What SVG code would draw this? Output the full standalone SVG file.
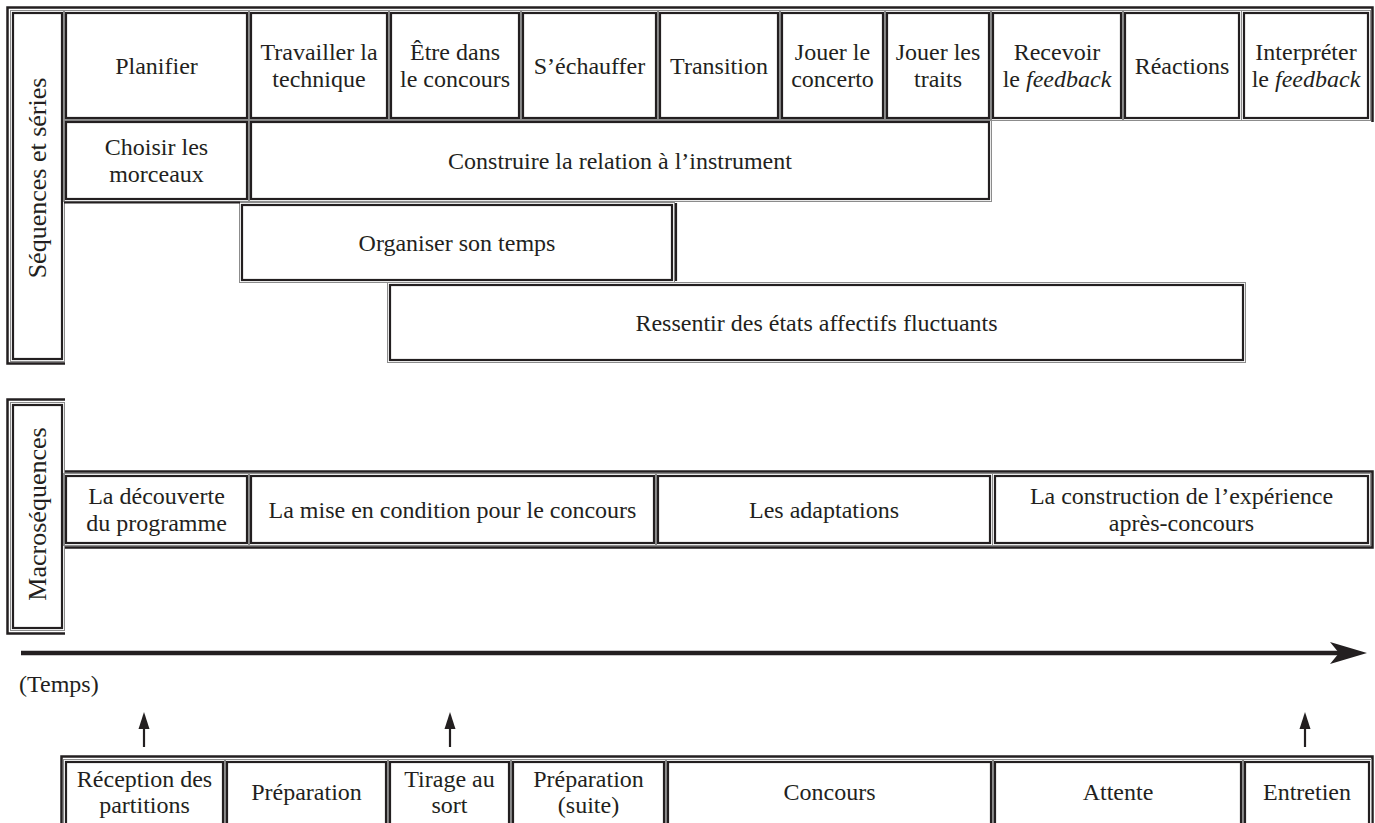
<svg xmlns="http://www.w3.org/2000/svg" width="1375" height="823" viewBox="0 0 1375 823">
<style>
.c{fill:#fff;stroke:#231f20;stroke-width:2.2}
.g{fill:none;stroke:#8c8c8c;stroke-width:1}
.f{fill:none;stroke:#231f20;stroke-width:2.5}
.t,.v,.tm{font-family:'Liberation Serif','Times New Roman',serif;fill:#231f20}
.t{font-size:24px;text-anchor:middle}
.v{font-size:26px;text-anchor:middle}
.tm{font-size:24px}
.i{font-style:italic}
.ln{stroke:#231f20;fill:none}
</style>
<rect width="1375" height="823" fill="#fff"/>

<g id="frame1">
<path class="f" d="M65,363.5 H7.5 V7.5 H1372.5 V122"/>
</g>
<g id="label-sequences">
<rect class="g" x="10.5" y="10.5" width="54" height="351"/>
<rect class="c" x="13" y="13" width="49" height="346"/>
<text class="v" transform="translate(46,178) rotate(-90)">Séquences et séries</text>
</g>

<g id="n-planifier"><rect class="g" x="63.5" y="10.5" width="186" height="110"/><rect class="c" x="66" y="13" width="181" height="105"/><text class="t" x="156.5" y="74">Planifier</text></g>
<g id="n-travailler"><rect class="g" x="248.5" y="10.5" width="141" height="110"/><rect class="c" x="251" y="13" width="136" height="105"/><text class="t" x="319" y="60">Travailler la</text><text class="t" x="319" y="87">technique</text></g>
<g id="n-etre"><rect class="g" x="388.5" y="10.5" width="133" height="110"/><rect class="c" x="391" y="13" width="128" height="105"/><text class="t" x="455" y="60">Être dans</text><text class="t" x="455" y="87">le concours</text></g>
<g id="n-echauffer"><rect class="g" x="520.5" y="10.5" width="138" height="110"/><rect class="c" x="523" y="13" width="133" height="105"/><text class="t" x="589.5" y="74">S’échauffer</text></g>
<g id="n-transition"><rect class="g" x="657.5" y="10.5" width="123" height="110"/><rect class="c" x="660" y="13" width="118" height="105"/><text class="t" x="719" y="74">Transition</text></g>
<g id="n-concerto"><rect class="g" x="779.5" y="10.5" width="106" height="110"/><rect class="c" x="782" y="13" width="101" height="105"/><text class="t" x="832.5" y="60">Jouer le</text><text class="t" x="832.5" y="87">concerto</text></g>
<g id="n-traits"><rect class="g" x="884.5" y="10.5" width="107" height="110"/><rect class="c" x="887" y="13" width="102" height="105"/><text class="t" x="938" y="60">Jouer les</text><text class="t" x="938" y="87">traits</text></g>
<g id="n-recevoir"><rect class="g" x="990.5" y="10.5" width="133" height="110"/><rect class="c" x="993" y="13" width="128" height="105"/><text class="t" x="1057" y="60">Recevoir</text><text class="t" x="1057" y="87">le <tspan class="i">feedback</tspan></text></g>
<g id="n-reactions"><rect class="g" x="1122.5" y="10.5" width="119" height="110"/><rect class="c" x="1125" y="13" width="114" height="105"/><text class="t" x="1182" y="74">Réactions</text></g>
<g id="n-interpreter"><rect class="g" x="1241.5" y="10.5" width="129" height="110"/><rect class="c" x="1244" y="13" width="124" height="105"/><text class="t" x="1306" y="60">Interpréter</text><text class="t" x="1306" y="87">le <tspan class="i">feedback</tspan></text></g>

<g id="n-choisir"><rect class="g" x="63.5" y="119.5" width="186" height="82"/><rect class="c" x="66" y="122" width="181" height="77"/><text class="t" x="156.5" y="155">Choisir les</text><text class="t" x="156.5" y="182">morceaux</text></g>
<g id="n-construire"><rect class="g" x="248.5" y="119.5" width="743" height="82"/><rect class="c" x="251" y="122" width="738" height="77"/><text class="t" x="620" y="169">Construire la relation à l’instrument</text></g>

<g id="n-organiser"><rect class="g" x="239.5" y="202.5" width="435" height="80"/><rect class="c" x="242" y="205" width="430" height="75"/><text class="t" x="457" y="251">Organiser son temps</text></g>
<g id="n-ressentir"><rect class="g" x="387.5" y="282.5" width="858" height="80"/><rect class="c" x="390" y="285" width="853" height="75"/><text class="t" x="816.5" y="331">Ressentir des états affectifs fluctuants</text></g>

<g id="frame2">
<path class="f" d="M65,633.5 H7.5 V399.5 H65"/>
<path class="f" d="M65,471.5 H1372.5 V547.5 H65"/>
</g>
<g id="label-macro">
<rect class="g" x="10.5" y="402.5" width="54" height="228"/>
<rect class="c" x="13" y="405" width="49" height="223"/>
<text class="v" transform="translate(46,514) rotate(-90)">Macroséquences</text>
</g>
<g id="m-decouverte"><rect class="g" x="63.5" y="473.5" width="186" height="72"/><rect class="c" x="66" y="476" width="181" height="67"/><text class="t" x="156.5" y="504">La découverte</text><text class="t" x="156.5" y="531">du programme</text></g>
<g id="m-mise"><rect class="g" x="248.5" y="473.5" width="408" height="72"/><rect class="c" x="251" y="476" width="403" height="67"/><text class="t" x="452.5" y="518">La mise en condition pour le concours</text></g>
<g id="m-adaptations"><rect class="g" x="655.5" y="473.5" width="337" height="72"/><rect class="c" x="658" y="476" width="332" height="67"/><text class="t" x="824" y="518">Les adaptations</text></g>
<g id="m-construction"><rect class="g" x="992.5" y="473.5" width="378" height="72"/><rect class="c" x="995" y="476" width="373" height="67"/><text class="t" x="1181.5" y="504">La construction de l’expérience</text><text class="t" x="1181.5" y="531">après-concours</text></g>

<g id="connectors">
<line class="ln" x1="64" y1="202.5" x2="240" y2="202.5" stroke-width="2.2"/>
<line class="ln" x1="676" y1="203" x2="676" y2="281" stroke-width="2.2"/>
<line class="ln" x1="21" y1="653" x2="1340" y2="653" stroke-width="4.5"/>
<polygon points="1330,642 1367,653 1330,664 1339,653" fill="#231f20"/>
<line class="ln" x1="144" y1="747" x2="144" y2="724" stroke-width="2.2"/>
<polygon points="138.5,729 144,712 149.5,729" fill="#231f20"/>
<line class="ln" x1="450" y1="747" x2="450" y2="724" stroke-width="2.2"/>
<polygon points="444.5,729 450,712 455.5,729" fill="#231f20"/>
<line class="ln" x1="1305" y1="747" x2="1305" y2="724" stroke-width="2.2"/>
<polygon points="1299.5,729 1305,712 1310.5,729" fill="#231f20"/>
</g>
<text id="temps" class="tm" x="19" y="692">(Temps)</text>

<g id="frame3">
<path class="f" d="M61.5,823 V756.5 H1372.5 V823"/>
</g>
<g id="b-reception"><rect class="g" x="63.5" y="759.5" width="162" height="80"/><rect class="c" x="66" y="762" width="157" height="75"/><text class="t" x="144.5" y="787">Réception des</text><text class="t" x="144.5" y="813">partitions</text></g>
<g id="b-preparation"><rect class="g" x="224.5" y="759.5" width="164" height="80"/><rect class="c" x="227" y="762" width="159" height="75"/><text class="t" x="306.5" y="800">Préparation</text></g>
<g id="b-tirage"><rect class="g" x="387.5" y="759.5" width="124" height="80"/><rect class="c" x="390" y="762" width="119" height="75"/><text class="t" x="449.5" y="787">Tirage au</text><text class="t" x="449.5" y="813">sort</text></g>
<g id="b-suite"><rect class="g" x="510.5" y="759.5" width="156" height="80"/><rect class="c" x="513" y="762" width="151" height="75"/><text class="t" x="588.5" y="787">Préparation</text><text class="t" x="588.5" y="813">(suite)</text></g>
<g id="b-concours"><rect class="g" x="665.5" y="759.5" width="328" height="80"/><rect class="c" x="668" y="762" width="323" height="75"/><text class="t" x="829.5" y="800">Concours</text></g>
<g id="b-attente"><rect class="g" x="992.5" y="759.5" width="251" height="80"/><rect class="c" x="995" y="762" width="246" height="75"/><text class="t" x="1118" y="800">Attente</text></g>
<g id="b-entretien"><rect class="g" x="1242.5" y="759.5" width="129" height="80"/><rect class="c" x="1245" y="762" width="124" height="75"/><text class="t" x="1307" y="800">Entretien</text></g>
</svg>
